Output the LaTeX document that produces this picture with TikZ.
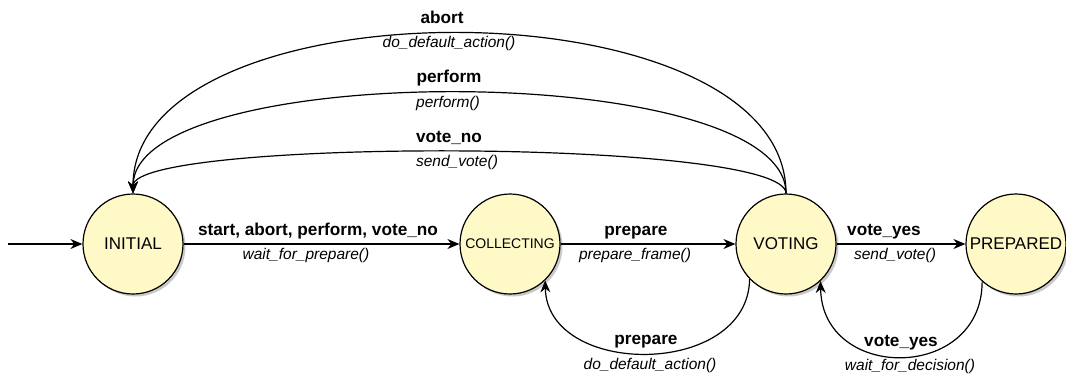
\documentclass[tikz,border=0pt]{standalone}
\usepackage{fontspec}
\setmainfont{Liberation Sans}
\usetikzlibrary{arrows.meta,shadows}
\definecolor{statefill}{RGB}{255,249,200}
\tikzset{
  state/.style={circle,draw=black,line width=1.2pt,fill=statefill,minimum size=100pt,inner sep=0pt,
    drop shadow={shadow xshift=2.5pt,shadow yshift=-2.5pt,opacity=0.35,fill=black!60},font=\fontsize{17}{19}\selectfont},
  edge/.style={line width=1.2pt,-{Stealth[length=12pt,width=10pt]}},
  ev/.style={anchor=base,inner sep=0pt,font=\fontsize{17.2}{19}\selectfont\bfseries},
  act/.style={anchor=base,inner sep=0pt,font=\fontsize{15.5}{17}\selectfont\itshape},
}
\begin{document}
\begin{tikzpicture}[x=1pt,y=-1pt]
\useasboundingbox (0,0) rectangle (1066,376);
\node[state] (ini) at (133,244) {INITIAL};
\node[state,font=\fontsize{14}{16}\selectfont] (col) at (510,244) {COLLECTING};
\node[state] (vot) at (786,244) {VOTING};
\node[state] (pre) at (1016,244) {PREPARED};
\coordinate (start) at (8,244);

\draw[edge] (start) -- (ini.west);
\draw[edge] (ini.east) -- (col.west);
\draw[edge] (col.east) -- (vot.west);
\draw[edge] (vot.east) -- (pre.west);

\draw[edge] (vot.north) .. controls (786,-20) and (133,-20) .. (ini.north);
\draw[edge] (vot.north) .. controls (786,59) and (133,59) .. (ini.north);
\draw[edge] (vot.north) .. controls (786,138) and (133,138) .. (ini.north);

\draw[edge] (vot.224) .. controls (748,378) and (547,378) .. (col.314);
\draw[edge] (pre.228) .. controls (982,382) and (822,382) .. (vot.313);

\node[ev] (l1) at (318,235) {start, abort, perform, vote\_no};
\node[act] (a1) at (306,259) {wait\_for\_prepare()};
\node[ev] (l2) at (636,235) {prepare};
\node[act] (a2) at (635,259) {prepare\_frame()};
\node[ev] (l3) at (884,235) {vote\_yes};
\node[act] (a3) at (895,259) {send\_vote()};

\node[ev] (l4) at (442,23) {abort};
\node[act] (a4) at (449,47) {do\_default\_action()};
\node[ev] (l5) at (449,82) {perform};
\node[act] (a5) at (448,107) {perform()};
\node[ev] (l6) at (449,142) {vote\_no};
\node[act] (a6) at (457,166) {send\_vote()};

\node[ev] (l7) at (646,344) {prepare};
\node[act] (a7) at (650,369) {do\_default\_action()};
\node[ev] (l8) at (901,346) {vote\_yes};
\node[act] (a8) at (910,370) {wait\_for\_decision()};
\end{tikzpicture}
\end{document}
